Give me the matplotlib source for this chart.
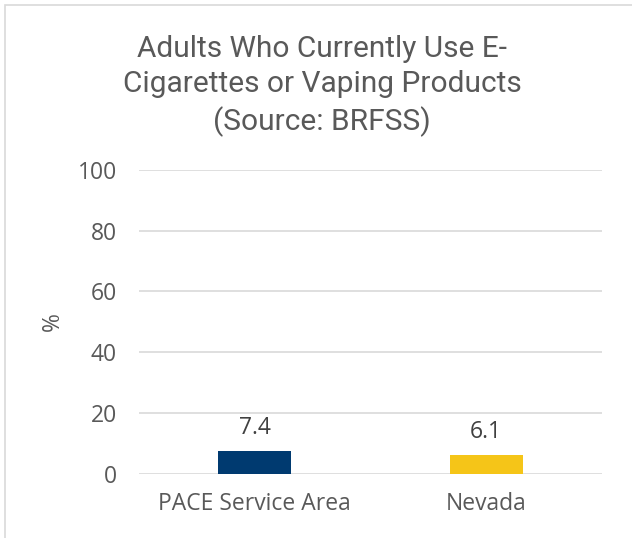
import matplotlib.pyplot as plt
from matplotlib.patches import Rectangle

# 資料
categories = ["PACE Service Area", "Nevada"]
values = [7.4, 6.1]
bar_colors = ["#003A70", "#F5C518"]
yticks = [0, 20, 40, 60, 80, 100]

plt.rcParams['font.family'] = ['Open Sans', 'DejaVu Sans']
text_color = '#595959'

fig = plt.figure(figsize=(6.32, 5.38), dpi=100)
ax = fig.add_axes([0.22, 0.119, 0.7325, 0.5656])

x = range(len(categories))
bars = ax.bar(x, values, width=0.314, color=bar_colors, zorder=3)

# 數值標籤
for rect, v in zip(bars, values):
    ax.annotate(f"{v}", (rect.get_x() + rect.get_width() / 2, rect.get_height()),
                xytext=(0, 8), textcoords='offset points', ha='center', va='bottom',
                fontsize=16.5, color='#404040')

ax.set_xlim(-0.5, 1.5)
ax.set_ylim(0, 100)
ax.set_yticks(yticks)
ax.set_xticks(list(x))
ax.set_xticklabels(categories)
ax.tick_params(axis='both', length=0, labelsize=16.5, labelcolor=text_color)
ax.tick_params(axis='y', pad=16)
ax.tick_params(axis='x', pad=13)
ax.grid(axis='y', color='#D9D9D9', linewidth=1.2, zorder=0)
for s in ax.spines.values():
    s.set_visible(False)

ax.set_ylabel("%", fontsize=16.5, color=text_color)
ax.yaxis.set_label_coords(-0.16, 0.5)

fig.text(0.51, 1 - 86 / 538,
         "Adults Who Currently Use E-\nCigarettes or Vaping Products\n(Source: BRFSS)",
         ha='center', va='center', fontsize=21.5, color=text_color, linespacing=1.32,
         family=['Roboto', 'DejaVu Sans'])

# 外框
fig.add_artist(Rectangle((5 / 632, -0.1), 1.2, 1.1 - 5 / 538, transform=fig.transFigure,
                         fill=False, edgecolor='#D9D9D9', linewidth=1.2))

fig.savefig("out.png", dpi=100)
